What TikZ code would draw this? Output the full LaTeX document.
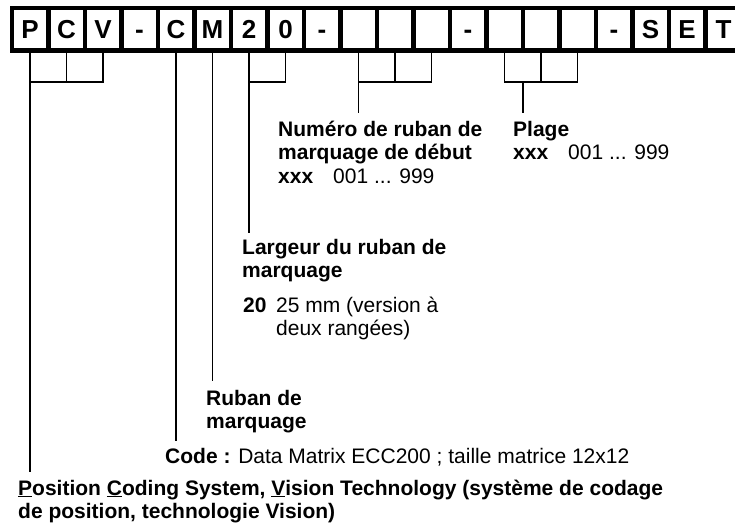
\documentclass[tikz,border=0pt]{standalone}
\usepackage{fontspec}
\setmainfont{Liberation Sans}
\usetikzlibrary{calc}

\tikzset{
  cell/.style={draw, line width=4.5pt, minimum width=36.5pt, minimum height=42.5pt,
    inner sep=0pt, outer sep=0pt, text height=18.6pt, text depth=0pt,
    font=\fontsize{26}{26}\selectfont\bfseries},
  lead/.style={line width=1.7pt},
  lbl/.style={anchor=base west, inner sep=0pt, align=left,
    font=\fontsize{21}{23.5}\selectfont}
}

\begin{document}
\begin{tikzpicture}[x=1pt, y=-1pt]
                \useasboundingbox (0,0) rectangle (735,527);
                % code cells
                \foreach \l [count=\i from 0] in {P,C,V,-,C,M,2,0,-,{},{},{},-,{},{},{},-,S,E,T}
                  \node[cell] (c\i) at (30+36.5*\i, 29.25) {\l};
                % labels (placed at the baseline of their last line)
                \node[lbl] (num) at (278,183) {\textbf{Numéro de ruban de}\\ \textbf{marquage de début}\\ \textbf{xxx}\hspace{20pt}001 ... 999};
                \node[lbl] (plage) at (513,159.5) {\textbf{Plage}\\ \textbf{xxx}\hspace{20pt}001 ... 999};
                \node[lbl] (larg) at (242,277.5) {\textbf{Largeur du ruban de}\\ \textbf{marquage}};
                \node[lbl] (vingt) at (243,312) {\textbf{20}};
                \node[lbl] (vingtval) at (276,335.5) {25 mm (version à\\ deux rangées)};
                \node[lbl] (ruban) at (206,428.5) {\textbf{Ruban de}\\ \textbf{marquage}};
                \node[lbl] (code) at (165,463) {\textbf{Code :} Data Matrix ECC200 ; taille matrice 12x12};
                \node[lbl] (pcs) at (18,518.5) {\textbf{\underline{P}osition \underline{C}oding System, \underline{V}ision Technology (système de codage}\\ \textbf{de position, technologie Vision)}};
                % lead ends
                \coordinate (pcvend) at (30,472);
                \coordinate (codeend) at (176,441);
                \coordinate (rubanend) at (212.5,381);
                \coordinate (largend) at (249,233);
                \coordinate (numend) at (358.5,113);
                \coordinate (plageend) at (522.75,113);
                % PCV
                \draw[lead] (c0.south) -- ++(0,31.5) coordinate (pcv) -| (c2.south);
                \draw[lead] (c1.south) -- (c1.south |- pcv);
                \draw[lead] (pcv) -- (pcvend);
                % C and M
                \draw[lead] (c4.south) -- (codeend);
                \draw[lead] (c5.south) -- (rubanend);
                % 20
                \draw[lead] (c6.south) -- ++(0,31.5) coordinate (larg20) -| (c7.south);
                \draw[lead] (larg20) -- (largend);
                % start number
                \draw[lead] (c9.south) -- ++(0,31.5) coordinate (numtop) -| (c11.south);
                \draw[lead] (c10.south) -- (c10.south |- numtop);
                \draw[lead] (numtop) -- (numend);
                % range
                \draw[lead] (c13.south) -- ++(0,31.5) coordinate (plagetop) -| (c15.south);
                \draw[lead] (c14.south) -- (c14.south |- plagetop);
                \coordinate (plagemid) at ($(c13.south)!0.5!(c14.south)$);
                \draw[lead] (plagemid |- plagetop) -- (plageend);
\end{tikzpicture}
\end{document}
